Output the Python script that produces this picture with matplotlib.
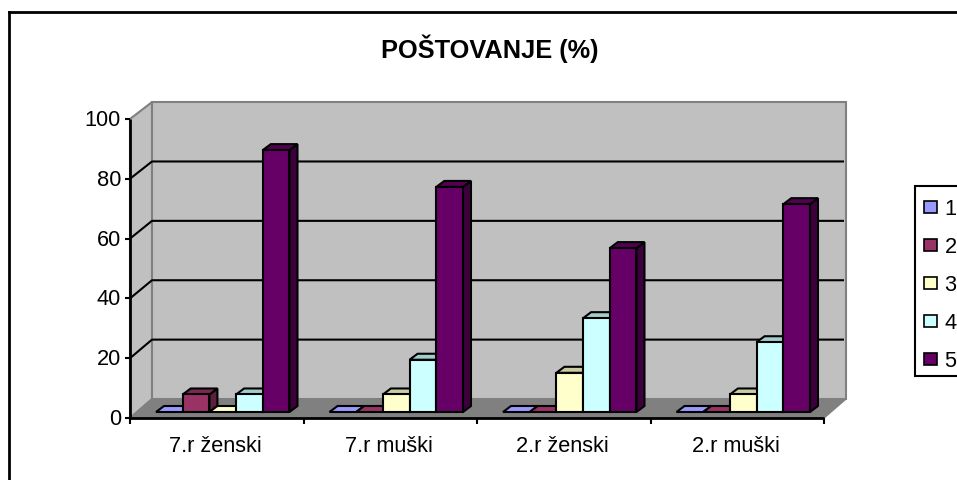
import matplotlib
matplotlib.use('Agg')
import matplotlib.pyplot as plt
from matplotlib.lines import Line2D
from matplotlib.patches import Patch, Polygon, Rectangle

plt.rcParams['font.family'] = ['Liberation Sans', 'DejaVu Sans']

title = 'POŠTOVANJE (%)'
categories = ['7.r ženski', '7.r muški', '2.r ženski', '2.r muški']
series_names = ['1', '2', '3', '4', '5']
series_1 = [0, 0, 0, 0]
series_2 = [5.9, 0, 0, 0]
series_3 = [0, 5.9, 13.2, 5.9]
series_4 = [5.9, 17.6, 31.6, 23.5]
series_5 = [88.2, 75.8, 55.2, 70.0]
y_ticks = [0, 20, 40, 60, 80, 100]

front_colors = ['#9999FF', '#993366', '#FFFFCC', '#CCFFFF', '#660066']
side_colors = ['#5C5C99', '#5C1F3D', '#99997A', '#7A9999', '#3D003D']
top_colors = ['#7A7ACC', '#7A2952', '#CCCCA3', '#A3CCCC', '#520052']

W, H = 957, 480
fig = plt.figure(figsize=(W / 100, H / 100), dpi=100)
fig.patch.set_facecolor('white')

# axes is the front plane of the fake 3d box
ax_l, ax_r, ax_t, ax_b = 130, 824, 119, 418
ax = fig.add_axes([ax_l / W, 1 - ax_b / H, (ax_r - ax_l) / W, (ax_b - ax_t) / H])
ax.set_xlim(0, len(categories))
ax.set_ylim(0, 100)
ax.axis('off')

px_x = len(categories) / (ax_r - ax_l)
px_y = 100 / (ax_b - ax_t)
n_cat = len(categories)

# things further back come out a touch smaller
back_scale = 0.993


def poly(pts, fc, ec='black', lw=1.5, z=2):
	p = Polygon(pts, closed=True, facecolor=fc, edgecolor=ec, linewidth=lw, zorder=z,
				joinstyle='miter', clip_on=False)
	ax.add_patch(p)


def line(xs, ys, color='black', lw=1.5, z=1.5):
	ax.add_line(Line2D(xs, ys, color=color, linewidth=lw, zorder=z, clip_on=False,
					   solid_capstyle='butt'))


# box depth
dx = 22 * px_x
dy = 19 * px_y
wall_top = 100 * back_scale + dy

# walls and floor
poly([(0, 0), (dx, dy), (dx, wall_top), (0, 100)], '#C0C0C0', '#808080', 1.5, 1)
poly([(dx, dy), (n_cat + dx, dy), (n_cat + dx, wall_top), (dx, wall_top)], '#C0C0C0', '#808080', 1.5, 1)
poly([(0, 0), (n_cat, 0), (n_cat + dx, dy), (dx, dy)], '#808080', '#808080', 1, 1.2)

for t in y_ticks[1:-1]:
	line([0, dx, n_cat + dx - 2 * px_x], [t, t * back_scale + dy, t * back_scale + dy])

# bars
all_series = [series_1, series_2, series_3, series_4, series_5]
bar_w = 1 / 6.5
off_x = 6 * px_x
off_y = 6 * px_y
bar_dx = 8 * px_x
bar_dy = 6 * px_y

for c in range(n_cat):
	x0 = c + 0.5 - 2.5 * bar_w + off_x
	for s, vals in enumerate(all_series):
		l = x0 + s * bar_w
		r = l + bar_w
		b = off_y
		t = off_y + vals[c] * back_scale
		poly([(r, b), (r + bar_dx, b + bar_dy), (r + bar_dx, t + bar_dy), (r, t)], side_colors[s])
		poly([(l, t), (r, t), (r + bar_dx, t + bar_dy), (l + bar_dx, t + bar_dy)],
			 top_colors[s] if vals[c] > 0 else front_colors[s])
		if vals[c] > 0:
			poly([(l, b), (r, b), (r, t), (l, t)], front_colors[s])

# front axes
line([0, 0], [0, 100], lw=2, z=3)
line([0, n_cat], [0, 0], lw=2, z=3)
for t in y_ticks:
	line([-5 * px_x, 0], [t, t], lw=1.5, z=3)
	ax.text(-9 * px_x, t - 1.5 * px_y, str(t), ha='right', va='center', fontsize=15.7, color='black')
for c in range(n_cat + 1):
	line([c, c], [0, -5.5 * px_y], lw=1.5, z=3)
for c, name in enumerate(categories):
	ax.text(c + 0.5 - 1 * px_x, -28 * px_y, name, ha='center', va='center', fontsize=15.7, color='black')

# outer frame, runs off the right and bottom of the picture
fig.add_artist(Line2D([9 / W, 9 / W], [0, 1 - 12 / H], color='black', linewidth=2))
fig.add_artist(Line2D([9 / W, 1], [1 - 12 / H, 1 - 12 / H], color='black', linewidth=2))

fig.text(490 / W, 1 - 49 / H, title, ha='center', va='center', fontsize=18.3, fontweight='bold')

# legend box also runs off the right edge, so it gets its own rectangle
fig.add_artist(Rectangle((915 / W, 1 - 376 / H), 60 / W, 190 / H, facecolor='white', edgecolor='black',
						 linewidth=1.5, transform=fig.transFigure))
handles = [Patch(facecolor=col, edgecolor='black', linewidth=1.2) for col in front_colors]
leg = fig.legend(handles, series_names, loc='upper left', bbox_to_anchor=(915 / W, 1 - 190 / H),
				 frameon=False, fontsize=15.7,
				 handlelength=0.6, handleheight=0.5, handletextpad=0.35, labelspacing=0.78,
				 borderpad=0.4, borderaxespad=0)

fig.savefig('out.png', dpi=100)
